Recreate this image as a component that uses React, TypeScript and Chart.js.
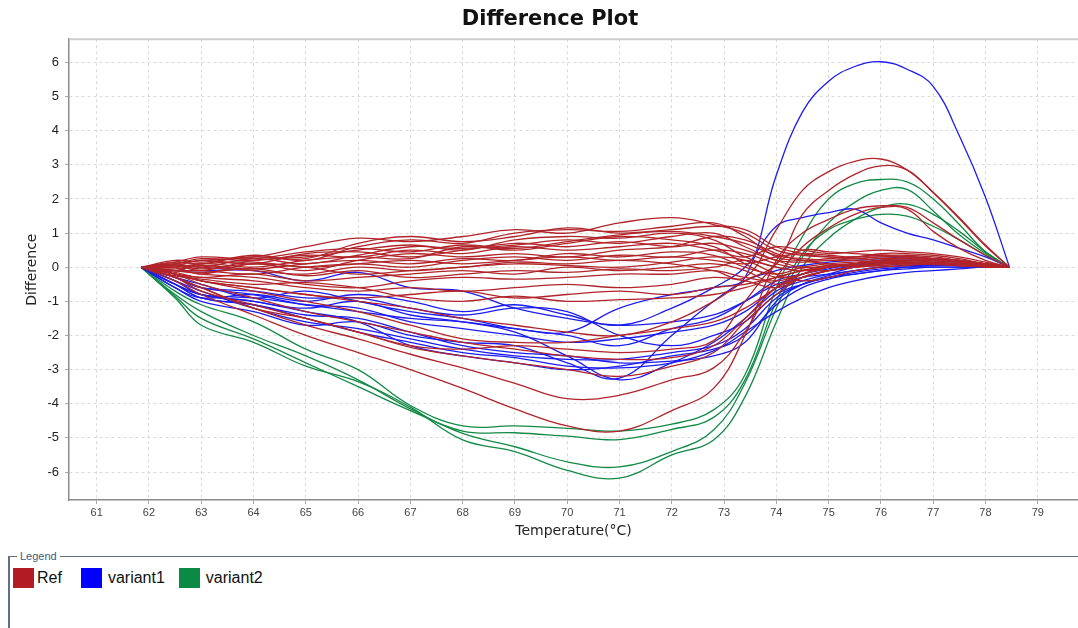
import React, { useEffect, useRef } from "react";
import { Chart, registerables } from "chart.js";
Chart.register(...registerables);

// Temperature sample points (°C)
const temps = [61.85, 62.5, 63, 64, 65, 66, 67, 68, 69, 70, 71, 72, 72.8, 73.4, 74, 74.5, 75, 75.5, 76, 76.5, 77, 77.5, 78, 78.46];

const xTickValues = [61, 62, 63, 64, 65, 66, 67, 68, 69, 70, 71, 72, 73, 74, 75, 76, 77, 78, 79];
const yTickValues = [-6, -5, -4, -3, -2, -1, 0, 1, 2, 3, 4, 5, 6];

const seriesNames = ["Ref", "variant1", "variant2"];
const seriesColors = ["#b0252b", "#1c1cf0", "#128a46"];
const swatchColors = ["#b31b24", "#0000ff", "#0a8a45"];

// Ref curves
const ref01 = [0, 0.1, 0.2, 0.3, 0.6, 0.85, 0.75, 0.9, 1.1, 1.0, 1.3, 1.45, 1.25, 1.0, 0.5, 0.35, 0.3, 0.25, 0.3, 0.3, 0.25, 0.2, 0.1, 0];
const ref02 = [0, 0.15, 0.1, 0.35, 0.2, 0.6, 0.8, 0.7, 1.0, 1.1, 1.05, 1.2, 1.3, 0.9, 0.3, 0.2, 0.25, 0.3, 0.35, 0.35, 0.3, 0.2, 0.1, 0];
const ref03 = [0, 0.05, -0.1, 0.2, 0.3, 0.5, 0.65, 0.5, 0.8, 0.9, 0.85, 1.0, 0.8, 0.3, 0.0, -0.1, 0.0, 0.1, 0.2, 0.25, 0.2, 0.15, 0.08, 0];
const ref04 = [0, -0.1, 0.1, 0.0, 0.2, 0.3, 0.25, 0.6, 0.5, 0.7, 0.9, 0.8, 0.6, 0.1, -0.3, -0.2, 0.0, 0.1, 0.15, 0.2, 0.2, 0.15, 0.05, 0];
const ref05 = [0, 0.0, -0.2, 0.1, -0.1, 0.2, 0.4, 0.3, 0.4, 0.3, 0.5, 0.6, 0.9, 0.8, 0.4, 0.2, 0.1, 0.05, 0.1, 0.15, 0.15, 0.1, 0.05, 0];
const ref06 = [0, -0.1, -0.1, -0.2, 0.0, 0.1, 0.0, 0.2, 0.3, 0.2, 0.35, 0.3, 0.5, 0.4, 0.1, -0.05, -0.1, 0.0, 0.05, 0.1, 0.1, 0.1, 0.05, 0];
const ref07 = [0, 0.05, 0.0, -0.1, -0.2, 0.0, -0.1, 0.0, 0.1, 0.05, 0.0, 0.15, 0.3, 0.2, -0.2, -0.4, -0.3, -0.1, 0.0, 0.05, 0.1, 0.05, 0.0, 0];
const ref08 = [0, -0.15, -0.3, -0.2, -0.4, -0.3, -0.2, -0.1, -0.2, 0.0, -0.1, 0.0, 0.1, -0.1, -0.5, -0.3, -0.1, 0.0, 0.1, 0.15, 0.1, 0.1, 0.05, 0];
const ref09 = [0, -0.1, -0.2, -0.3, -0.5, -0.6, -0.4, -0.3, -0.35, -0.3, -0.2, -0.2, -0.1, -0.3, -0.4, -0.2, 0.0, 0.1, 0.2, 0.2, 0.15, 0.1, 0.05, 0];
const ref10 = [0, -0.2, -0.3, -0.4, -0.6, -0.7, -0.6, -0.7, -0.6, -0.5, -0.6, -0.5, -0.3, -0.4, -0.6, -0.3, -0.1, 0.0, 0.05, 0.1, 0.1, 0.05, 0.02, 0];
const ref11 = [0, -0.2, -0.4, -0.6, -0.8, -0.9, -0.8, -0.7, -0.9, -0.8, -0.7, -0.8, -0.6, -0.5, -0.3, -0.1, 0.05, 0.1, 0.15, 0.15, 0.1, 0.08, 0.03, 0];
const ref12 = [0, 0.1, 0.25, 0.2, 0.35, 0.3, 0.5, 0.4, 0.6, 0.5, 0.6, 0.7, 0.5, 0.3, 0.6, 0.5, 0.4, 0.45, 0.5, 0.45, 0.4, 0.3, 0.15, 0];
const ref13 = [0, 0.0, 0.1, 0.15, 0.0, 0.1, 0.2, 0.1, 0.2, 0.3, 0.2, 0.3, 0.2, 0.1, 0.3, 0.4, 0.35, 0.3, 0.4, 0.4, 0.35, 0.25, 0.1, 0];
const ref14 = [0, 0.05, -0.05, 0.1, 0.0, -0.2, -0.1, 0.0, 0.15, 0.1, 0.2, 0.1, -0.1, -0.3, 1.1, 2.25, 2.8, 3.1, 3.17, 2.85, 2.2, 1.45, 0.65, 0];
const ref15 = [0, 0.2, 0.15, 0.3, 0.25, 0.7, 0.9, 0.75, 0.9, 1.15, 1.0, 1.1, 1.2, 1.1, 0.6, 0.4, 0.3, 0.3, 0.35, 0.3, 0.25, 0.2, 0.1, 0];
const ref16 = [0, -0.05, 0.05, -0.05, 0.1, 0.2, 0.1, 0.25, 0.2, 0.4, 0.3, 0.45, 0.35, 0.0, -0.2, 0.0, 0.1, 0.15, 0.2, 0.2, 0.15, 0.1, 0.05, 0];
const ref17 = [0, -0.1, -0.15, -0.05, -0.25, -0.1, -0.3, -0.2, -0.1, -0.15, -0.05, -0.1, 0.0, 0.2, 0.0, -0.1, 0.0, 0.05, 0.1, 0.1, 0.1, 0.05, 0.02, 0];
const ref18 = [0, 0.05, 0.2, 0.1, 0.4, 0.45, 0.3, 0.5, 0.7, 0.6, 0.75, 0.6, 0.7, 0.5, 0.2, 0.15, 0.2, 0.25, 0.3, 0.3, 0.25, 0.2, 0.1, 0];
const ref19 = [0, -0.25, -0.35, -0.5, -0.45, -0.6, -0.9, -1.0, -0.85, -1.0, -0.95, -0.9, -0.8, -0.6, -0.3, -0.1, 0.0, 0.05, 0.1, 0.1, 0.08, 0.05, 0.02, 0];
const ref20 = [0, 0.1, 0.0, 0.25, 0.1, 0.35, 0.6, 0.55, 0.65, 0.8, 0.7, 0.9, 1.0, 0.6, 0.2, 0.0, 0.05, 0.1, 0.2, 0.25, 0.2, 0.15, 0.08, 0];
const ref21 = [0, -0.4, -0.8, -1.4, -2.0, -2.5, -3.0, -3.55, -4.15, -4.65, -4.8, -4.2, -3.55, -2.0, 0.2, 1.0, 1.4, 1.7, 1.8, 1.75, 1.3, 0.8, 0.35, 0];
const ref22 = [0, -0.3, -0.6, -1.2, -1.7, -2.1, -2.55, -2.95, -3.4, -3.85, -3.75, -3.3, -2.95, -1.9, -0.3, 0.6, 1.15, 1.55, 1.75, 1.7, 1.05, 0.55, 0.2, 0];
const ref23 = [0, -0.3, -0.7, -1.1, -1.5, -1.9, -2.35, -2.6, -2.8, -3.0, -3.2, -2.9, -2.5, -1.6, -0.8, -0.3, -0.1, 0.0, 0.1, 0.15, 0.1, 0.05, 0.02, 0];
const ref24 = [0, -0.2, -0.5, -0.9, -1.3, -1.6, -1.9, -2.2, -2.4, -2.6, -2.7, -2.65, -2.3, -1.5, -0.6, -0.2, 0.0, 0.1, 0.15, 0.15, 0.12, 0.08, 0.03, 0];
const ref25 = [0, -0.3, -0.6, -1.2, -1.5, -1.9, -2.3, -2.4, -2.3, -2.4, -2.5, -2.4, -2.15, -1.0, 0.1, 0.5, 0.45, 0.4, 0.35, 0.3, 0.25, 0.2, 0.1, 0];
const ref26 = [0, -0.2, -0.4, -0.7, -1.0, -1.3, -1.7, -2.1, -2.2, -2.2, -2.0, -1.8, -1.6, -1.2, -0.6, -0.2, 0.0, 0.1, 0.15, 0.15, 0.12, 0.08, 0.03, 0];
const ref27 = [0, -0.2, -0.4, -0.6, -0.8, -1.0, -1.2, -1.5, -1.7, -1.9, -2.0, -1.6, -1.0, -0.4, 0.1, 1.55, 2.25, 2.72, 2.97, 2.85, 2.18, 1.42, 0.62, 0];
const ref28 = [0, 0.15, 0.3, 0.25, 0.45, 0.55, 0.45, 0.65, 0.55, 0.75, 0.95, 1.05, 0.9, 0.7, 0.35, 0.25, 0.2, 0.2, 0.25, 0.25, 0.2, 0.15, 0.08, 0];

// variant1 curves
const var1a = [0, -0.5, -0.8, -0.9, -1.1, -1.3, -1.5, -1.6, -1.8, -1.9, -1.2, -0.8, -0.6, -0.3, 2.7, 4.55, 5.45, 5.88, 6.02, 5.8, 5.3, 3.85, 2.05, 0];
const var1b = [0, -0.6, -0.9, -0.8, -1.0, -0.8, -1.0, -1.3, -1.1, -1.4, -1.7, -1.2, -0.6, 0.0, 1.2, 1.45, 1.6, 1.7, 1.3, 1.0, 0.8, 0.55, 0.3, 0];
const var1c = [0, -0.3, -0.5, -0.9, -0.7, -1.0, -1.3, -1.5, -1.8, -2.0, -2.3, -1.8, -1.5, -1.0, -0.4, -0.2, -0.05, 0.1, 0.2, 0.25, 0.2, 0.15, 0.08, 0];
const var1d = [0, -0.5, -0.8, -1.0, -1.2, -1.0, -1.4, -1.6, -1.9, -2.6, -3.3, -2.8, -2.2, -1.5, -0.7, -0.4, -0.2, 0.0, 0.15, 0.2, 0.2, 0.15, 0.05, 0];
const var1e = [0, -0.6, -1.0, -1.3, -1.7, -1.6, -2.0, -2.2, -2.3, -2.8, -3.25, -2.0, -1.0, -0.4, -0.1, 0.05, 0.15, 0.2, 0.25, 0.3, 0.25, 0.15, 0.1, 0];
const var1f = [0, -0.5, -0.9, -1.1, -1.4, -1.5, -1.9, -2.3, -2.5, -2.6, -2.8, -2.75, -2.6, -2.2, -1.0, -0.5, -0.25, -0.1, 0.0, 0.05, 0.05, 0.05, 0.02, 0];
const var1g = [0, -0.4, -0.7, -1.2, -1.6, -1.8, -2.1, -2.4, -2.6, -2.7, -2.7, -2.5, -2.3, -1.8, -0.9, -0.5, -0.3, -0.15, -0.05, 0.0, 0.0, 0.0, 0.0, 0];
const var1h = [0, -0.3, -0.6, -0.8, -1.1, -1.2, -1.6, -1.8, -2.0, -2.2, -2.1, -1.9, -1.7, -1.3, -0.6, -0.3, -0.1, 0.05, 0.15, 0.2, 0.2, 0.15, 0.1, 0];
const var1i = [0, -0.1, -0.1, -0.1, -0.4, -0.15, -0.6, -0.7, -1.2, -1.5, -1.7, -1.6, -1.4, -1.0, -0.5, -0.3, -0.2, -0.1, 0.0, 0.05, 0.1, 0.1, 0.05, 0];
const var1j = [0, -0.5, -0.9, -1.1, -1.5, -1.9, -2.2, -2.5, -2.65, -2.9, -2.95, -2.8, -2.45, -1.9, -1.3, -0.9, -0.6, -0.4, -0.25, -0.15, -0.1, -0.05, 0.0, 0];
const var1k = [0, -0.3, -0.6, -0.7, -0.9, -0.9, -1.2, -1.4, -1.2, -1.3, -2.0, -2.3, -2.0, -1.6, -0.8, -0.5, -0.3, -0.2, -0.1, 0.0, 0.05, 0.05, 0.05, 0];
const var1l = [0, -0.4, -0.8, -1.0, -1.3, -1.6, -2.3, -2.6, -2.8, -3.0, -2.9, -2.6, -2.4, -2.0, -1.1, -0.6, -0.35, -0.2, -0.1, -0.05, 0, 0, 0, 0];

// variant2 curves
const var2a = [0, -0.9, -1.7, -2.2, -2.9, -3.35, -4.1, -5.06, -5.4, -5.95, -6.18, -5.5, -5.06, -3.8, -1.6, 0.0, 0.85, 1.4, 1.75, 1.85, 1.55, 1.05, 0.45, 0];
const var2b = [0, -0.8, -1.3, -2.0, -2.6, -3.3, -4.15, -4.87, -5.26, -5.7, -5.85, -5.4, -4.77, -3.4, -1.2, 0.3, 1.3, 1.9, 2.25, 2.28, 1.65, 0.95, 0.4, 0];
const var2c = [0, -0.7, -1.1, -1.6, -2.4, -3.0, -4.05, -4.65, -4.65, -4.72, -4.8, -4.6, -4.18, -3.15, -0.6, 0.9, 2.0, 2.45, 2.57, 2.5, 2.0, 1.25, 0.45, 0];
const var2d = [0, -0.85, -1.5, -2.1, -2.8, -3.5, -4.2, -4.8, -4.85, -4.95, -5.05, -4.75, -4.4, -3.3, -1.0, 0.4, 1.1, 1.4, 1.55, 1.5, 1.2, 0.8, 0.35, 0];

const refCurves = [ref01, ref02, ref03, ref04, ref05, ref06, ref07, ref08, ref09, ref10, ref11, ref12, ref13, ref14, ref15, ref16, ref17, ref18, ref19, ref20, ref21, ref22, ref23, ref24, ref25, ref26, ref27, ref28];
const variant1Curves = [var1a, var1b, var1c, var1d, var1e, var1f, var1g, var1h, var1i, var1j, var1k, var1l];
const variant2Curves = [var2a, var2b, var2c, var2d];

const groups = [refCurves, variant1Curves, variant2Curves];

const FONT = "'Liberation Sans', Arial, sans-serif";
const FONT_WIDE = "'DejaVu Sans', Verdana, sans-serif";

const topBorder = {
  id: "topBorder",
  beforeDatasetsDraw(chart: any) {
    const { ctx, chartArea: a } = chart;
    ctx.save();
    ctx.strokeStyle = "#cdcdcd";
    ctx.lineWidth = 2;
    ctx.beginPath();
    ctx.moveTo(a.left, a.top);
    ctx.lineTo(a.right, a.top);
    ctx.stroke();
    ctx.restore();
  },
};

export default function App() {
  const canvasRef = useRef<HTMLCanvasElement | null>(null);

  useEffect(() => {
    document.body.style.margin = "0";
    const datasets: any[] = [];
    groups.forEach((curves, g) => {
      curves.forEach((vals, i) => {
        datasets.push({
          label: seriesNames[g] + " " + (i + 1),
          data: temps.map((t, k) => ({ x: t, y: vals[k] })),
          borderColor: seriesColors[g],
          borderWidth: 1.3,
          pointRadius: 0,
          fill: false,
          tension: 0.4,
        });
      });
    });
    const chart = new Chart(canvasRef.current as HTMLCanvasElement, {
      type: "line",
      data: { datasets },
      plugins: [topBorder],
      options: {
        animation: false,
        responsive: false,
        maintainAspectRatio: false,
        layout: { padding: { left: 22, right: 0, top: 0, bottom: 0 } },
        plugins: {
          legend: { display: false },
          tooltip: { enabled: false },
          title: {
            display: true,
            text: "Difference Plot",
            color: "#111",
            font: { family: FONT_WIDE, size: 21, weight: "bold" },
            padding: { top: 7, bottom: 7 },
          },
        },
        scales: {
          x: {
            type: "linear",
            min: 60.47,
            max: 79.77,
            afterBuildTicks: (scale: any) => {
              scale.ticks = xTickValues.map((v) => ({ value: v }));
            },
            afterFit: (scale: any) => {
              scale.height = 48;
            },
            ticks: {
              autoSkip: false,
              maxRotation: 0,
              color: "#444",
              padding: 2,
              font: { family: FONT, size: 11 },
              callback: (v: any) => String(v),
            },
            grid: { color: "#dadada", tickLength: 4, tickColor: "#aaa", tickBorderDash: [] },
            border: { color: "#8c8c8c", width: 1.5, dash: [3, 3] },
            title: {
              display: true,
              text: "Temperature(°C)",
              color: "#222",
              font: { family: FONT_WIDE, size: 14 },
              padding: { top: 0, bottom: 8 },
            },
          },
          y: {
            type: "linear",
            min: -6.82,
            max: 6.68,
            afterBuildTicks: (scale: any) => {
              scale.ticks = yTickValues.map((v) => ({ value: v }));
            },
            afterFit: (scale: any) => {
              scale.width = 47;
            },
            ticks: {
              color: "#222",
              padding: 6,
              font: { family: FONT, size: 13 },
              callback: (v: any) => String(v),
            },
            grid: { color: "#dadada", tickLength: 4, tickColor: "#aaa", tickBorderDash: [] },
            border: { color: "#8c8c8c", width: 1.5, dash: [3, 3] },
            title: {
              display: true,
              text: "Difference",
              color: "#222",
              font: { family: FONT_WIDE, size: 14 },
              padding: { top: 2, bottom: 0 },
            },
          },
        },
      },
    });
    return () => chart.destroy();
  }, []);

  return (
    <div style={{ position: "relative", width: 1078, height: 628, background: "#fff", overflow: "hidden" }}>
      <canvas ref={canvasRef} width={1078} height={548} style={{ position: "absolute", left: 0, top: 0, width: 1078, height: 548 }} />
      <div style={{ position: "absolute", left: 8, top: 556, right: 0, borderTop: "1px solid #5f7083" }} />
      <div style={{ position: "absolute", left: 8, top: 556, width: 2, bottom: 0, background: "#5f7083" }} />
      <div style={{ position: "absolute", left: 17, top: 549, padding: "0 3px", background: "#fff", fontFamily: FONT, fontSize: 11, color: "#3d5a80", lineHeight: "14px" }}>Legend</div>
      <div style={{ position: "absolute", left: 13, top: 568, display: "flex", alignItems: "center", fontFamily: FONT, fontSize: 16, color: "#111" }}>
        {seriesNames.map((name, i) => (
          <div key={name} style={{ display: "flex", alignItems: "center", marginRight: i === 0 ? 19 : 14 }}>
            <div style={{ width: 21, height: 20, background: swatchColors[i], marginRight: i === 0 ? 3 : 6 }} />
            <span>{name}</span>
          </div>
        ))}
      </div>
    </div>
  );
}
